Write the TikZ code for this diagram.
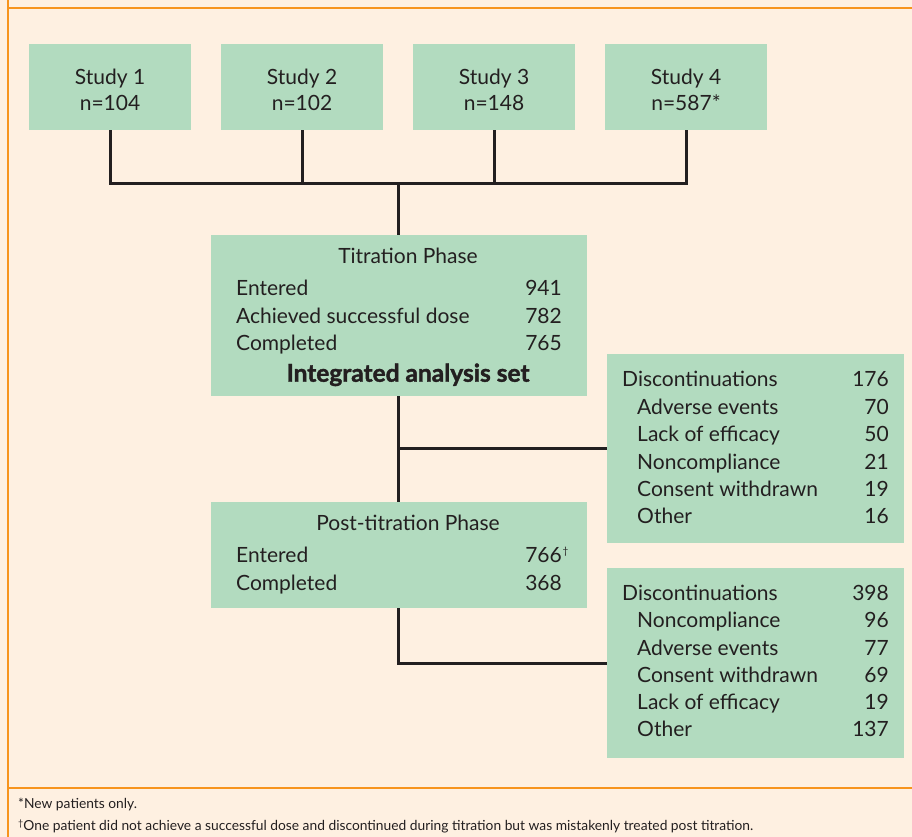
\documentclass[tikz,border=0pt]{standalone}
\usepackage{fontspec}
\setmainfont{Lato}[BoldFeatures={FakeBold=1.6}]
\definecolor{cream}{HTML}{FEF0E1}
\definecolor{boxgreen}{HTML}{B2DBBF}
\definecolor{frameorange}{HTML}{F7941D}
\definecolor{linedark}{HTML}{231F20}
\tikzset{
  greenbox/.style={fill=boxgreen, draw=none, inner sep=0pt, anchor=north west},
  conn/.style={draw=linedark, line width=3pt, line join=miter},
  frame/.style={draw=frameorange, line width=2pt},
  txt/.style={inner sep=0pt, text=linedark, font=\fontsize{21}{24}\selectfont},
  lbl/.style={txt, anchor=base west},
  num/.style={txt, anchor=base east},
  ctr/.style={txt, anchor=base},
  foot/.style={inner sep=0pt, anchor=base west, text=linedark, font=\fontsize{13.8}{15}\selectfont}
}
\begin{document}
\begin{tikzpicture}[x=1pt,y=-1pt]
\useasboundingbox (0,0) rectangle (912,837);
\fill[cream] (0,0) rectangle (912,837);
% frame lines
\draw[frame] (8,8) -- (912,8);
\draw[frame] (8,0) -- (8,837);
\draw[frame] (8,788) -- (912,788);

% study boxes
\node[greenbox, minimum width=162pt, minimum height=86pt] (s1) at (29,44) {};
\node[greenbox, minimum width=162pt, minimum height=86pt] (s2) at (221,44) {};
\node[greenbox, minimum width=162pt, minimum height=86pt] (s3) at (413,44) {};
\node[greenbox, minimum width=162pt, minimum height=86pt] (s4) at (605,44) {};
\node[ctr] (s1a) at (110,84.3) {Study 1};
\node[ctr] (s1b) at (110,111) {n=104};
\node[ctr] (s2a) at (302,84.3) {Study 2};
\node[ctr] (s2b) at (302,111) {n=102};
\node[ctr] (s3a) at (494,84.3) {Study 3};
\node[ctr] (s3b) at (494,111) {n=148};
\node[ctr] (s4a) at (686,84.3) {Study 4};
\node[ctr] (s4b) at (686,111) {n=587*};

% titration box
\node[greenbox, minimum width=376pt, minimum height=161pt] (tit) at (211,235) {};
\node[ctr] (t0) at (408,263) {Titration Phase};
\node[lbl] (t1) at (236,295.7) {Entered};
\node[num] (t1n) at (562,295.7) {941};
\node[lbl] (t2) at (236,323.3) {Achieved successful dose};
\node[num] (t2n) at (562,323.3) {782};
\node[lbl] (t3) at (236,350.7) {Completed};
\node[num] (t3n) at (562,350.7) {765};
\node[ctr, font=\fontsize{24.5}{27}\selectfont\bfseries] (t4) at (408,381.7) {Integrated analysis set};

% post-titration box
\node[greenbox, minimum width=376pt, minimum height=106pt] (post) at (211,502) {};
\node[ctr] (p0) at (408,530) {Post-titration Phase};
\node[lbl] (p1) at (236,562.7) {Entered};
\node[num] (p1n) at (562,562.7) {766};
\node[inner sep=0pt, anchor=south west, text=linedark, font=\fontsize{10}{11}\selectfont] (dag) at (562.5,556) {\textdagger};
\node[lbl] (p2) at (236,590.7) {Completed};
\node[num] (p2n) at (562,590.7) {368};

% discontinuation box 1
\node[greenbox, minimum width=297pt, minimum height=189pt] (d1) at (607,354) {};
\node[lbl] (d1a) at (622,386.7) {Discontinuations};
\node[num] (d1an) at (889,386.7) {176};
\node[lbl] (d1b) at (637,414.2) {Adverse events};
\node[num] (d1bn) at (889,414.2) {70};
\node[lbl] (d1c) at (637,441.6) {Lack of efficacy};
\node[num] (d1cn) at (889,441.6) {50};
\node[lbl] (d1d) at (637,469) {Noncompliance};
\node[num] (d1dn) at (889,469) {21};
\node[lbl] (d1e) at (637,496.4) {Consent withdrawn};
\node[num] (d1en) at (889,496.4) {19};
\node[lbl] (d1f) at (637,523.6) {Other};
\node[num] (d1fn) at (889,523.6) {16};

% discontinuation box 2
\node[greenbox, minimum width=297pt, minimum height=190pt] (d2) at (607,568) {};
\node[lbl] (d2a) at (622,600.7) {Discontinuations};
\node[num] (d2an) at (889,600.7) {398};
\node[lbl] (d2b) at (637,627.9) {Noncompliance};
\node[num] (d2bn) at (889,627.9) {96};
\node[lbl] (d2c) at (637,655.1) {Adverse events};
\node[num] (d2cn) at (889,655.1) {77};
\node[lbl] (d2d) at (637,682.3) {Consent withdrawn};
\node[num] (d2dn) at (889,682.3) {69};
\node[lbl] (d2e) at (637,709.5) {Lack of efficacy};
\node[num] (d2en) at (889,709.5) {19};
\node[lbl] (d2f) at (637,736.7) {Other};
\node[num] (d2fn) at (889,736.7) {137};

% connectors
\coordinate (j) at (398,184);
\draw[conn] (s1.south) -- (s1.south |- j) -- (s4.south |- j) -- (s4.south);
\draw[conn] (s2.south) -- (s2.south |- j);
\draw[conn] (s3.south) -- (s3.south |- j);
\coordinate (tTop) at (398,235);
\coordinate (tBot) at (398,396);
\coordinate (pTop) at (398,502);
\coordinate (pBot) at (398,608);
\draw[conn] (j) -- (tTop);
\draw[conn] (tBot) -- (pTop);
\draw[conn] (d1.west) -- (d1.west -| tBot);
\draw[conn] (pBot) |- (d2.west);

% footnotes
\node[foot] (f1) at (18,808) {*New patients only.};
\node[foot] (f2) at (18,830) {{\fontsize{9}{10}\selectfont\raisebox{4pt}{\textdagger}}One patient did not achieve a successful dose and discontinued during titration but was mistakenly treated post titration.};
\end{tikzpicture}
\end{document}
